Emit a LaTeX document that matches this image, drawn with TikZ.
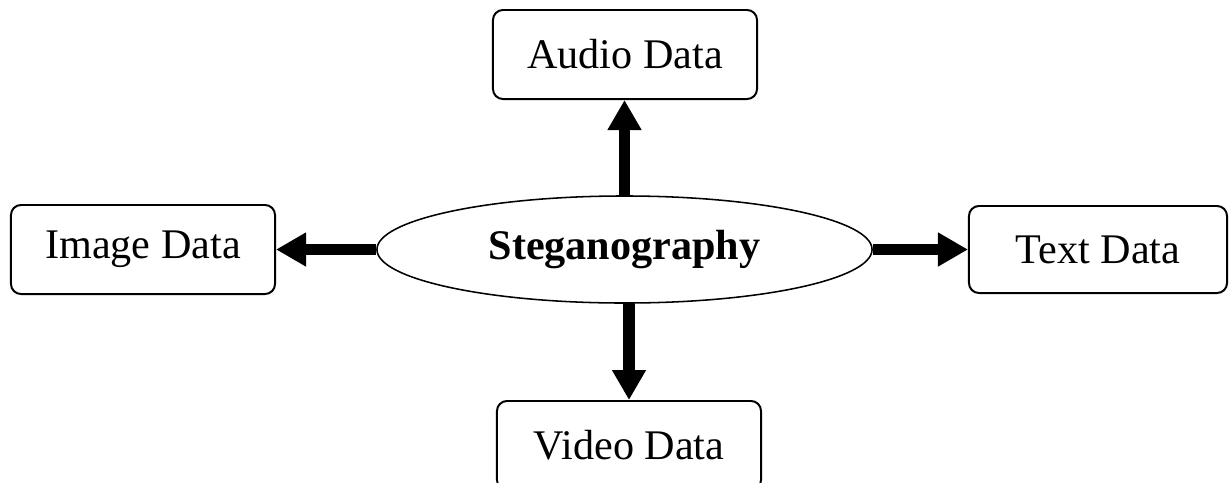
\documentclass[tikz,border=0pt]{standalone}
\usepackage{fontspec}
\setmainfont{Liberation Serif}
\usetikzlibrary{shapes.geometric,arrows.meta}

\begin{document}
\begin{tikzpicture}[x=0.025cm,y=-0.025cm]

      \useasboundingbox (0,0) rectangle (1229,482);

      \begin{scope}[every node/.style={draw,rounded corners=0.25cm,line width=1.4pt,
          minimum width=6.6cm,minimum height=2.225cm,inner sep=0pt,
          font=\fontsize{30}{36}\selectfont}]
        \node (audio) at (625,54.5)   {Audio Data};
        \node (image) at (143,249.5)  {Image Data};
        \node[minimum width=6.45cm,minimum height=2.175cm] (text) at (1098,249.5) {Text Data};
        \node (video) at (629,445.5)  {Video Data};
      \end{scope}

      \node[draw,ellipse,line width=1.1pt,minimum width=12.375cm,minimum height=2.675cm,
        inner sep=0pt,font=\fontsize{30}{36}\selectfont\bfseries] (stego) at (624.5,249.5) {Steganography};

      \begin{scope}[every edge/.style={draw,line width=0.28cm,
          -{Triangle[length=0.75cm,width=0.8cm]}}]
        \path (stego.north) edge (stego.north |- audio.south);
        \path (stego.west)  edge (image);
        \path (stego.east)  edge (text);
        \path (video.north |- stego.south) edge (video);
      \end{scope}

    \end{tikzpicture}
\end{document}
